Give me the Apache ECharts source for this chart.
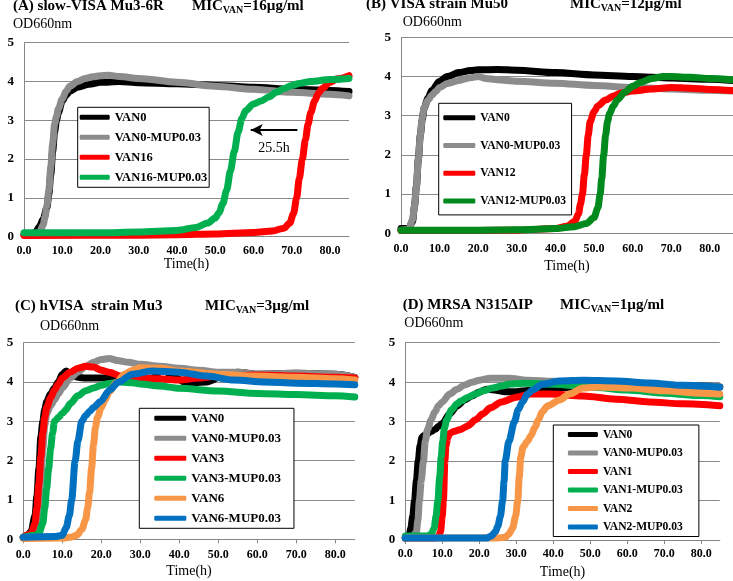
<!DOCTYPE html>
<html>
<head>
<meta charset="utf-8">
<script src="https://cdn.jsdelivr.net/npm/echarts@6/dist/echarts.min.js"></script>
<style>html,body{margin:0;padding:0;background:#fff}#c{width:733px;height:581px}</style>
</head>
<body>
<div id="c"></div>
<script>
// ---------- Panel A: slow-VISA Mu3-6R ----------
const A_VAN0_t = [0, 2, 3, 4, 5, 6, 6.5, 7, 7.5, 8, 8.5, 9, 10, 11, 12, 14, 17, 20, 25, 30, 40, 50, 60, 70, 80, 85];
const A_VAN0_y = [0.05, 0.07, 0.12, 0.25, 0.45, 0.75, 1.1, 1.6, 2.2, 2.7, 3.0, 3.2, 3.5, 3.65, 3.75, 3.85, 3.93, 3.98, 4.0, 3.97, 3.94, 3.9, 3.85, 3.8, 3.77, 3.74];
const A_VAN0M_t = [0, 3, 4, 5, 5.5, 6, 6.5, 7, 7.5, 8, 8.5, 9, 10, 11, 12, 14, 16, 18, 20, 22, 25, 30, 40, 50, 60, 70, 80, 85];
const A_VAN0M_y = [0.05, 0.06, 0.1, 0.3, 0.5, 0.8, 1.2, 1.8, 2.4, 2.9, 3.1, 3.3, 3.55, 3.75, 3.88, 4.0, 4.08, 4.12, 4.15, 4.16, 4.13, 4.08, 3.98, 3.88, 3.8, 3.72, 3.67, 3.63];
const A_VAN16_t = [0, 30, 40, 50, 60, 65, 68, 69.5, 70.5, 71.3, 72, 72.8, 73.6, 74.3, 75, 76, 77, 78, 80, 82, 85];
const A_VAN16_y = [0.03, 0.04, 0.05, 0.07, 0.11, 0.15, 0.22, 0.35, 0.6, 1.0, 1.5, 2.0, 2.5, 2.9, 3.2, 3.5, 3.7, 3.82, 3.98, 4.07, 4.15];
const A_VAN16M_t = [0, 20, 30, 40, 45, 48, 50, 51, 52, 53, 54, 55, 56, 57, 58, 60, 62, 64, 66, 68, 70, 72, 75, 80, 85];
const A_VAN16M_y = [0.1, 0.1, 0.12, 0.16, 0.24, 0.35, 0.48, 0.62, 0.85, 1.2, 1.7, 2.2, 2.7, 3.05, 3.25, 3.42, 3.5, 3.6, 3.72, 3.82, 3.9, 3.95, 4.0, 4.05, 4.08];
const A_arrowFrom = [71.5, 2.75];
const A_arrowTo = [59.3, 2.75];
const A_arrowLabel = '25.5h';

// ---------- Panel B: VISA strain Mu50 ----------
const B_VAN0_t = [0, 2, 3, 3.5, 4, 4.5, 5, 5.5, 6, 7, 8, 10, 12, 15, 18, 20, 25, 30, 40, 50, 60, 70, 80, 86];
const B_VAN0_y = [0.12, 0.12, 0.3, 0.7, 1.2, 1.9, 2.5, 2.9, 3.2, 3.45, 3.65, 3.88, 4.0, 4.1, 4.15, 4.17, 4.18, 4.16, 4.1, 4.04, 4.0, 3.96, 3.93, 3.9];
const B_VAN0M_t = [0, 2, 3, 3.5, 4, 4.5, 5, 5.5, 6, 7, 8, 9, 10, 12, 15, 18, 20, 22, 25, 30, 40, 50, 60, 70, 80, 86];
const B_VAN0M_y = [0.08, 0.1, 0.35, 0.7, 1.2, 1.9, 2.5, 2.95, 3.2, 3.4, 3.52, 3.62, 3.72, 3.82, 3.9, 3.97, 4.0, 3.95, 3.92, 3.88, 3.83, 3.77, 3.72, 3.68, 3.65, 3.63];
const B_VAN12_t = [0, 20, 30, 40, 43, 45, 46, 46.5, 47, 47.5, 48, 48.5, 49, 50, 51, 53, 55, 57, 60, 65, 70, 75, 80, 86];
const B_VAN12_y = [0.07, 0.07, 0.08, 0.12, 0.18, 0.3, 0.5, 0.75, 1.0, 1.5, 2.0, 2.5, 2.85, 3.1, 3.25, 3.4, 3.5, 3.58, 3.63, 3.68, 3.72, 3.7, 3.67, 3.64];
const B_VAN12M_t = [0, 20, 30, 40, 45, 48, 50, 51, 51.6, 52, 52.5, 53, 53.5, 54, 55, 56, 58, 60, 62, 65, 68, 70, 75, 80, 86];
const B_VAN12M_y = [0.08, 0.08, 0.09, 0.12, 0.17, 0.25, 0.4, 0.65, 1.0, 1.4, 2.0, 2.5, 2.85, 3.05, 3.25, 3.4, 3.6, 3.75, 3.85, 3.95, 4.0, 4.0, 3.98, 3.95, 3.92];

// ---------- Panel C: hVISA strain Mu3 ----------
const C_VAN0_t = [0, 1, 2, 3, 3.5, 4, 4.5, 5, 5.5, 6, 7, 8, 9, 10, 11, 12, 14, 16, 20, 25, 30, 33, 36, 38, 42, 47, 52, 55, 60, 70, 80, 85];
const C_VAN0_y = [0.05, 0.1, 0.2, 0.6, 1.1, 1.8, 2.6, 3.0, 3.3, 3.5, 3.7, 3.85, 4.0, 4.2, 4.28, 4.2, 4.12, 4.1, 4.1, 4.1, 4.05, 4.1, 4.35, 4.15, 3.98, 4.0, 4.2, 4.25, 4.2, 4.22, 4.2, 4.12];
const C_VAN0M_t = [0, 2, 3, 4, 4.5, 5, 5.5, 6, 7, 8, 9, 10, 12, 14, 16, 18, 20, 22, 24, 27, 30, 35, 40, 45, 50, 55, 60, 70, 80, 85];
const C_VAN0M_y = [0.05, 0.1, 0.25, 0.8, 1.5, 2.3, 2.9, 3.2, 3.4, 3.55, 3.7, 3.85, 4.1, 4.25, 4.4, 4.5, 4.57, 4.6, 4.55, 4.5, 4.45, 4.4, 4.35, 4.3, 4.25, 4.25, 4.2, 4.22, 4.2, 4.12];
const C_VAN3_t = [0, 2, 3, 3.5, 4, 4.5, 5, 5.5, 6, 7, 8, 9, 10, 12, 14, 16, 18, 20, 22, 25, 30, 35, 40, 45, 50, 60, 70, 80, 85];
const C_VAN3_y = [0.05, 0.15, 0.4, 0.8, 1.4, 2.1, 2.7, 3.1, 3.35, 3.6, 3.8, 3.95, 4.1, 4.25, 4.35, 4.4, 4.38, 4.3, 4.25, 4.15, 4.1, 4.08, 4.05, 4.1, 4.15, 4.18, 4.15, 4.12, 4.1];
const C_VAN3M_t = [0, 3, 4, 5, 5.5, 6, 6.5, 7, 7.5, 8, 9, 10, 11, 12, 14, 16, 18, 20, 22, 25, 28, 30, 35, 40, 50, 60, 70, 80, 85];
const C_VAN3M_y = [0.05, 0.1, 0.15, 0.4, 0.8, 1.3, 1.8, 2.3, 2.7, 3.0, 3.1, 3.2, 3.3, 3.45, 3.65, 3.78, 3.85, 3.92, 3.96, 4.0, 3.98, 3.95, 3.9, 3.84, 3.77, 3.71, 3.68, 3.65, 3.62];
const C_VAN6_t = [0, 10, 12, 13.7, 15, 16, 16.5, 17, 17.5, 18, 18.5, 19, 20, 21, 22, 24, 26, 28, 30, 35, 40, 50, 60, 70, 80, 85];
const C_VAN6_y = [0.02, 0.03, 0.05, 0.1, 0.25, 0.5, 0.8, 1.2, 1.8, 2.4, 2.85, 3.1, 3.35, 3.55, 3.75, 4.0, 4.2, 4.3, 4.36, 4.35, 4.28, 4.2, 4.15, 4.12, 4.08, 4.05];
const C_VAN6M_t = [0, 8, 10, 11, 11.8, 12.4, 13.3, 14, 15, 16, 17, 18, 19.7, 22.2, 24.4, 28, 33, 40, 47, 54, 62, 70, 80, 85];
const C_VAN6M_y = [0.05, 0.07, 0.1, 0.3, 0.6, 1.0, 2.0, 2.5, 3.0, 3.15, 3.25, 3.35, 3.5, 3.8, 4.0, 4.2, 4.28, 4.25, 4.15, 4.05, 4.0, 3.97, 3.95, 3.93];

// ---------- Panel D: MRSA N315ΔIP ----------
const D_VAN0_t = [0, 1, 1.5, 2, 2.5, 3, 3.5, 4, 4.5, 5, 6, 7, 8, 9, 10, 12, 14, 16, 18, 20, 22, 24, 27, 30, 35, 40, 50, 60, 70, 80, 85];
const D_VAN0_y = [0.05, 0.1, 0.3, 0.6, 1.0, 1.5, 2.0, 2.4, 2.6, 2.65, 2.7, 2.75, 2.8, 2.88, 2.95, 3.2, 3.4, 3.55, 3.65, 3.75, 3.82, 3.8, 3.76, 3.76, 3.8, 3.85, 3.9, 3.92, 3.92, 3.9, 3.88];
const D_VAN0M_t = [0, 2, 3, 3.4, 3.8, 4.3, 4.9, 5.4, 6, 7, 8, 9, 10, 12, 14, 16, 18, 20, 23, 28, 33, 40, 50, 60, 70, 80, 85];
const D_VAN0M_y = [0.05, 0.07, 0.2, 0.5, 1.0, 1.5, 2.0, 2.5, 2.8, 3.05, 3.25, 3.4, 3.5, 3.7, 3.82, 3.93, 4.0, 4.05, 4.1, 4.1, 4.05, 4.02, 3.98, 3.95, 3.92, 3.9, 3.88];
const D_VAN1_t = [0, 8, 9, 9.5, 10, 10.3, 10.7, 11, 11.5, 12, 13, 15, 16, 17, 19, 21, 23, 26, 30, 34, 39, 48, 57, 66, 75, 85];
const D_VAN1_y = [0.05, 0.05, 0.08, 0.2, 0.6, 1.0, 2.0, 2.4, 2.6, 2.7, 2.75, 2.8, 2.85, 2.9, 3.05, 3.2, 3.35, 3.5, 3.62, 3.7, 3.7, 3.65, 3.57, 3.5, 3.45, 3.4];
const D_VAN1M_t = [0, 6, 7, 7.8, 8.3, 8.8, 9.3, 9.7, 10.1, 10.6, 11.2, 12.5, 14, 15, 17, 19, 21, 23.6, 26, 28, 32, 40, 50, 60, 70, 80, 85];
const D_VAN1M_y = [0.1, 0.1, 0.15, 0.3, 0.6, 1.0, 1.6, 2.1, 2.5, 2.85, 3.05, 3.3, 3.45, 3.52, 3.62, 3.7, 3.78, 3.85, 3.9, 3.95, 3.97, 3.95, 3.88, 3.8, 3.72, 3.66, 3.63];
const D_VAN2_t = [0, 25, 27, 28, 29, 29.8, 30.4, 30.8, 31.2, 31.8, 33, 34, 35, 36, 37, 38.5, 41.7, 44.4, 48, 52, 61, 70, 80, 85];
const D_VAN2_y = [0.05, 0.05, 0.07, 0.15, 0.3, 0.6, 1.0, 1.6, 2.1, 2.35, 2.5, 2.65, 2.85, 3.05, 3.25, 3.4, 3.55, 3.7, 3.85, 3.88, 3.85, 3.78, 3.72, 3.7];
const D_VAN2M_t = [0, 22, 23.2, 24.3, 25, 25.7, 26.3, 26.7, 27, 28, 29.5, 30.5, 31.7, 33, 34.4, 37, 41.7, 48, 57, 66, 75, 85];
const D_VAN2M_y = [0.05, 0.05, 0.1, 0.2, 0.35, 0.6, 1.0, 1.5, 2.0, 2.5, 3.0, 3.3, 3.5, 3.7, 3.8, 3.95, 4.03, 4.05, 4.03, 3.98, 3.92, 3.87];

// axis ticks
const yTicks = [0, 1, 2, 3, 4, 5];
const xTickStep = 10;

const FONT = 'Liberation Serif';
const COL = { black: '#000000', gray: '#8c8c8c', red: '#ff0000', green: '#00b050', dkgreen: '#008a1e', orange: '#f79646', blue: '#0070c0' };

function pairs(t, y) { return t.map((v, i) => [v, y[i]]); }

function ser(name, color, t, y, idx, extra) {
  return Object.assign({
    type: 'line', name: name, xAxisIndex: idx, yAxisIndex: idx,
    data: pairs(t, y), showSymbol: false, symbol: 'none',
    smooth: 0.3, smoothMonotone: 'x', silent: true,
    lineStyle: { width: 7, color: color, cap: 'round', join: 'round' },
    itemStyle: { color: color },
    emphasis: { disabled: true }
  }, extra || {});
}

const grids = [
  { left: 24, top: 42.7, width: 325, height: 194 },
  { left: 401, top: 37.3, width: 333.3, height: 196 },
  { left: 23.3, top: 342.7, width: 331.5, height: 196.6 },
  { left: 405.3, top: 342.7, width: 314.5, height: 197.3 }
];
const xMax = [85, 86, 85, 85];
const xLabelMargin = [8, 10, 10, 8];
const xNameGap = [21, 26, 25, 25];
const xTicksShow = [false, false, true, true];

const xAxes = grids.map((g, i) => ({
  type: 'value', gridIndex: i, min: 0, max: xMax[i], interval: xTickStep,
  name: 'Time(h)', nameLocation: 'middle', nameGap: xNameGap[i],
  nameTextStyle: { fontFamily: FONT, fontSize: 14, color: '#000' },
  axisLine: { show: true, lineStyle: { color: '#868686', width: 1 } },
  axisTick: { show: xTicksShow[i], length: 4, lineStyle: { color: '#868686' } },
  splitLine: { show: false },
  axisLabel: {
    margin: xLabelMargin[i], showMaxLabel: false,
    formatter: v => (v % xTickStep === 0 ? v.toFixed(1) : ''),
    fontFamily: FONT, fontWeight: 'bold', fontSize: 12, color: '#000'
  }
}));
const yAxes = grids.map((g, i) => ({
  type: 'value', gridIndex: i, min: yTicks[0], max: yTicks[yTicks.length - 1], interval: 1,
  axisLine: { show: true, lineStyle: { color: '#868686', width: 1 } },
  axisTick: { show: false },
  splitLine: { show: true, lineStyle: { color: '#8a8a8a', width: 1 } },
  axisLabel: { margin: 10, fontFamily: FONT, fontWeight: 'bold', fontSize: 13, color: '#000' }
}));

const titleStyle = { fontFamily: FONT, fontWeight: 'bold', fontSize: 15, color: '#000', lineHeight: 18,
  rich: { s: { fontFamily: FONT, fontWeight: 'bold', fontSize: 10, color: '#000', verticalAlign: 'bottom', lineHeight: 12 } } };
const odStyle = { fontFamily: FONT, fontWeight: 'normal', fontSize: 14, color: '#000' };
function tt(text, left, top, style) { return { text: text, left: left, top: top, padding: 0, textStyle: style }; }

const titles = [
  tt('(A) slow-VISA Mu3-6R', 13, -3, titleStyle),
  tt('MIC{s|VAN}=16µg/ml', 192, -3, titleStyle),
  tt('OD660nm', 13, 17, odStyle),
  tt('(B) VISA strain Mu50', 366, -5, titleStyle),
  tt('MIC{s|VAN}=12µg/ml', 570, -5, titleStyle),
  tt('OD660nm', 402.7, 15, odStyle),
  tt('(C) hVISA  strain Mu3', 15, 297, titleStyle),
  tt('MIC{s|VAN}=3µg/ml', 205, 297, titleStyle),
  tt('OD660nm', 40, 319, odStyle),
  tt('(D) MRSA N315ΔIP', 402.7, 296, titleStyle),
  tt('MIC{s|VAN}=1µg/ml', 560, 296, titleStyle),
  tt('OD660nm', 404.3, 316.7, odStyle)
];

function leg(names, left, top, padding, gap, iw, fs, lh) {
  return {
    data: names, left: left, top: top, orient: 'vertical', padding: padding,
    itemGap: gap, itemWidth: iw, itemHeight: 5, icon: 'roundRect',
    borderColor: '#000', borderWidth: 1, backgroundColor: '#fff', selectedMode: false,
    textStyle: { fontFamily: FONT, fontWeight: 'bold', fontSize: fs, lineHeight: lh, color: '#000' }
  };
}

const legends = [
  leg(['VAN0', 'VAN0-MUP0.03', 'VAN16', 'VAN16-MUP0.03'], 77.7, 107.3, [3, 2, 3, 2], 6, 30, 12.5, 14),
  leg(['VAN0', 'VAN0-MUP0.03', 'VAN12', 'VAN12-MUP0.03'], 438.7, 103.3, [7.5, 5.5, 7, 4.6], 13.7, 32, 11.6, 14),
  leg(['VAN0', 'VAN0-MUP0.03', 'VAN3', 'VAN3-MUP0.03', 'VAN6', 'VAN6-MUP0.03'], 139.3, 408.3, [3, 13, 3, 15], 6, 32, 13, 14),
  leg(['VAN0', 'VAN0-MUP0.03', 'VAN1', 'VAN1-MUP0.03', 'VAN2', 'VAN2-MUP0.03'], 553.3, 425, [3, 16, 3, 14.6], 5.5, 30, 11.6, 13)
];

const series = [
  ser('VAN0', COL.black, A_VAN0_t, A_VAN0_y, 0),
  ser('VAN0-MUP0.03', COL.gray, A_VAN0M_t, A_VAN0M_y, 0),
  ser('VAN16', COL.red, A_VAN16_t, A_VAN16_y, 0),
  ser('VAN16-MUP0.03', COL.green, A_VAN16M_t, A_VAN16M_y, 0, {
    markLine: {
      silent: true, symbol: ['arrow', 'none'], symbolSize: [9, 12],
      lineStyle: { color: '#000', width: 2, type: 'solid' },
      label: { show: true, formatter: A_arrowLabel, position: 'insideMiddleBottom', distance: 11,
        fontFamily: FONT, fontSize: 14, color: '#000' },
      emphasis: { disabled: true },
      data: [[{ coord: A_arrowTo }, { coord: A_arrowFrom }]]
    }
  }),
  ser('VAN0', COL.black, B_VAN0_t, B_VAN0_y, 1),
  ser('VAN0-MUP0.03', COL.gray, B_VAN0M_t, B_VAN0M_y, 1),
  ser('VAN12', COL.red, B_VAN12_t, B_VAN12_y, 1),
  ser('VAN12-MUP0.03', COL.dkgreen, B_VAN12M_t, B_VAN12M_y, 1),
  ser('VAN0', COL.black, C_VAN0_t, C_VAN0_y, 2),
  ser('VAN0-MUP0.03', COL.gray, C_VAN0M_t, C_VAN0M_y, 2),
  ser('VAN3', COL.red, C_VAN3_t, C_VAN3_y, 2),
  ser('VAN3-MUP0.03', COL.green, C_VAN3M_t, C_VAN3M_y, 2),
  ser('VAN6', COL.orange, C_VAN6_t, C_VAN6_y, 2),
  ser('VAN6-MUP0.03', COL.blue, C_VAN6M_t, C_VAN6M_y, 2),
  ser('VAN0', COL.black, D_VAN0_t, D_VAN0_y, 3),
  ser('VAN0-MUP0.03', COL.gray, D_VAN0M_t, D_VAN0M_y, 3),
  ser('VAN1', COL.red, D_VAN1_t, D_VAN1_y, 3),
  ser('VAN1-MUP0.03', COL.green, D_VAN1M_t, D_VAN1M_y, 3),
  ser('VAN2', COL.orange, D_VAN2_t, D_VAN2_y, 3),
  ser('VAN2-MUP0.03', COL.blue, D_VAN2M_t, D_VAN2M_y, 3)
];

const chart = echarts.init(document.getElementById('c'), null, { renderer: 'canvas' });
chart.setOption({
  animation: false,
  backgroundColor: '#fff',
  title: titles,
  legend: legends,
  grid: grids.map(g => Object.assign({ containLabel: false }, g)),
  xAxis: xAxes,
  yAxis: yAxes,
  series: series
});
</script>
</body>
</html>
